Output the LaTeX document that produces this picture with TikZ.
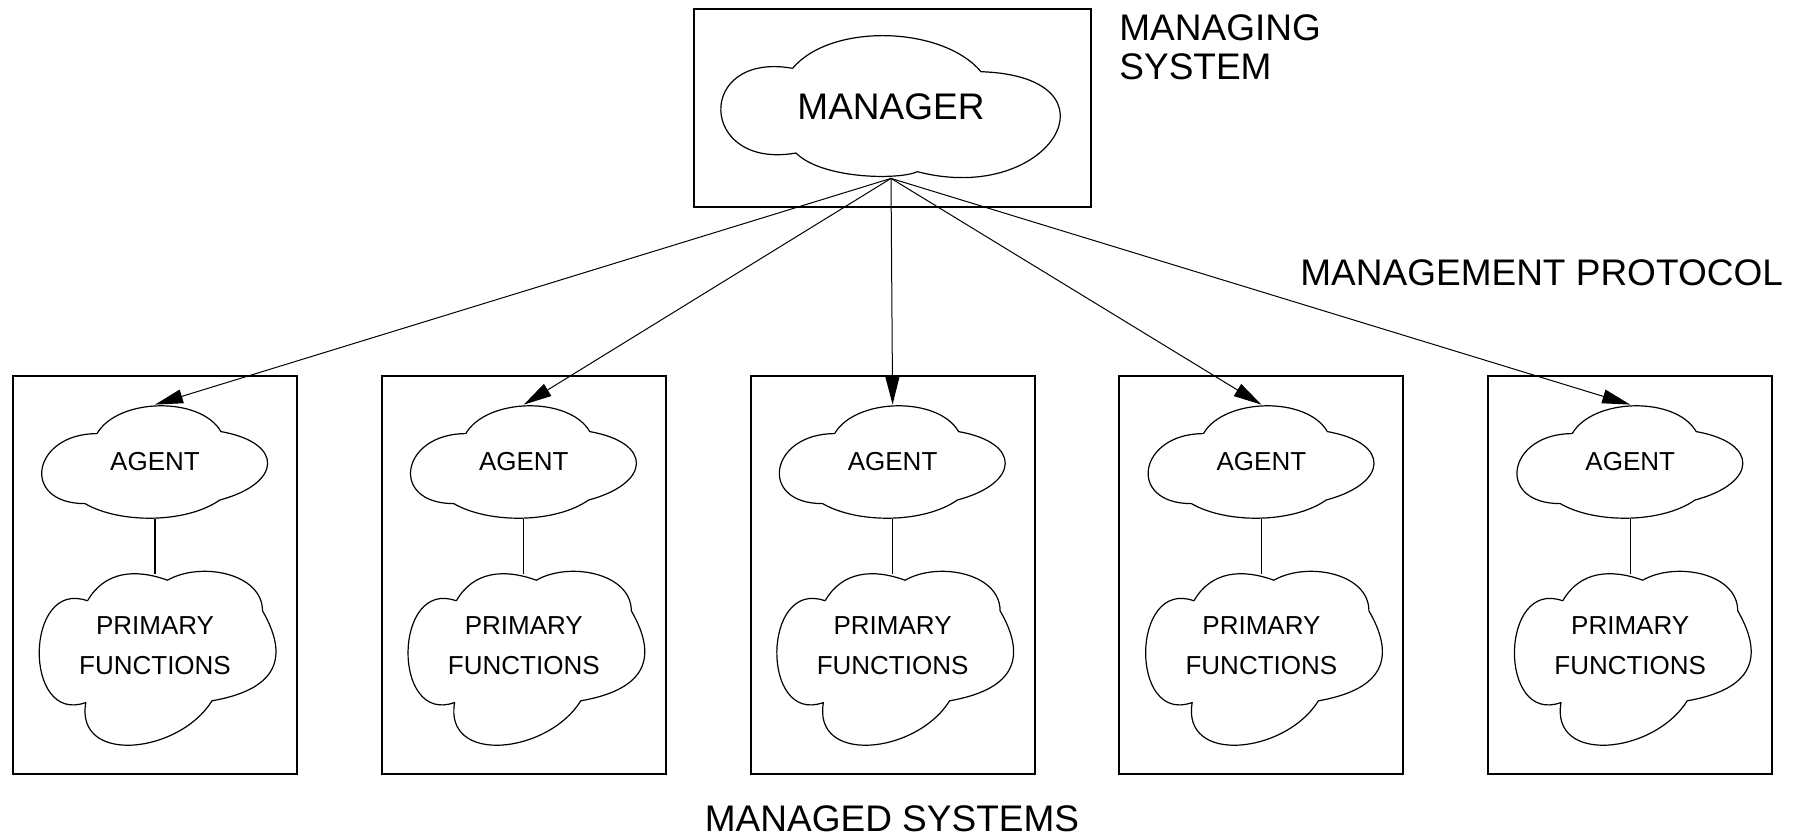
\documentclass[tikz,border=0pt]{standalone}
\usepackage{fontspec}
\setmainfont{Liberation Sans}
\usetikzlibrary{positioning,arrows.meta}

\newcommand{\labelfont}{\fontsize{18.5pt}{19.5pt}\selectfont}
\newcommand{\puffont}{\fontsize{13pt}{20pt}\selectfont}

\begin{document}
\begin{tikzpicture}[x=1pt,y=1pt,node distance=184.4pt,on grid,
    system/.style={draw,line width=1pt,minimum width=142pt,minimum height=199pt},
    puffline/.style={draw,line width=0.6pt,line join=round},
    agent/.style={inner sep=0pt,minimum width=113pt,minimum height=56.6pt,font=\puffont},
    prim/.style={inner sep=0pt,minimum width=115.8pt,minimum height=85.8pt,text depth=14pt,
                 align=center,font=\puffont},
    lbl/.style={inner sep=0pt,font=\labelfont},
    mgrcloud/.pic={
      \path[puffline] (-49.2,19.1) to[out=50,in=130,looseness=0.81] (45,17.4)
        .. controls (118,15) and (80,-50) .. (13.3,-32.6)
        .. controls (3,-37) and (-35,-36) .. (-47.5,-23.25)
        to[out=190,in=170,looseness=3] (-49.2,19.1);},
    agentcloud/.pic={
      \path[puffline] (-29,14) to[out=60,in=120,looseness=0.85] (33,15)
        to[out=-10,in=15,looseness=2.41] (32.4,-19.2)
        to[out=-145,in=-30,looseness=0.77] (-35,-21)
        to[out=180,in=180,looseness=2.35] (-29,14);},
    primcloud/.pic={
      \path[puffline] (-33.75,29.6) to[out=60,in=160,looseness=1.06] (6.25,39.9)
        to[out=30,in=90,looseness=0.97] (53.75,24.6)
        to[out=-60,in=10,looseness=1.49] (28.5,-20.4)
        to[out=-122,in=-100,looseness=1.28] (-34.6,-21.25)
        to[out=200,in=160,looseness=1.69] (-33.75,29.6);}]
    \useasboundingbox (0,0) rectangle (901.5,-418.5);

    % managing side
    \node[draw,line width=1pt,minimum width=198.5pt,minimum height=99pt] (mgrbox) at (446,-54) {};
    \node[lbl,minimum width=170pt,minimum height=71.5pt] (mgr) at (445.5,-53.25) {MANAGER};
    \pic at (mgr.center) {mgrcloud};
    \node[lbl,anchor=north west,align=left] (msys) at (559.5,-7) {MANAGING\\SYSTEM};

    % managed side
    \node[system] (sys1) at (77.5,-287.5) {};
    \node[system] (sys2) [right=of sys1] {};
    \node[system] (sys3) [right=of sys2] {};
    \node[system] (sys4) [right=of sys3] {};
    \node[system] (sys5) [right=of sys4] {};

    \node[agent] (ag1) [above=56.7pt of sys1] {AGENT};
    \node[agent] (ag2) [above=56.7pt of sys2] {AGENT};
    \node[agent] (ag3) [above=56.7pt of sys3] {AGENT};
    \node[agent] (ag4) [above=56.7pt of sys4] {AGENT};
    \node[agent] (ag5) [above=56.7pt of sys5] {AGENT};

    \node[prim] (pf1) [below=42.5pt of sys1] {PRIMARY\\FUNCTIONS};
    \node[prim] (pf2) [below=42.5pt of sys2] {PRIMARY\\FUNCTIONS};
    \node[prim] (pf3) [below=42.5pt of sys3] {PRIMARY\\FUNCTIONS};
    \node[prim] (pf4) [below=42.5pt of sys4] {PRIMARY\\FUNCTIONS};
    \node[prim] (pf5) [below=42.5pt of sys5] {PRIMARY\\FUNCTIONS};

    \pic at (ag1.center) {agentcloud};
    \pic at (ag2.center) {agentcloud};
    \pic at (ag3.center) {agentcloud};
    \pic at (ag4.center) {agentcloud};
    \pic at (ag5.center) {agentcloud};
    \pic at (pf1.center) {primcloud};
    \pic at (pf2.center) {primcloud};
    \pic at (pf3.center) {primcloud};
    \pic at (pf4.center) {primcloud};
    \pic at (pf5.center) {primcloud};

    \path[-{Triangle[length=14pt,width=7pt]},line width=0.5pt]
    (mgr.south) edge (ag1.north)
                edge (ag2.north)
                edge (ag3.north)
                edge (ag4.north)
                edge (ag5.north);

    \path[line width=0.6pt]
    (ag1.south) edge (pf1.north)
    (ag2.south) edge (pf2.north)
    (ag3.south) edge (pf3.north)
    (ag4.south) edge (pf4.north)
    (ag5.south) edge (pf5.north);

    \node[lbl,anchor=west] (proto) at (650,-136.5) {MANAGEMENT PROTOCOL};
    \node[lbl] (msystems) at (446,-409.5) {MANAGED SYSTEMS};
\end{tikzpicture}
\end{document}
